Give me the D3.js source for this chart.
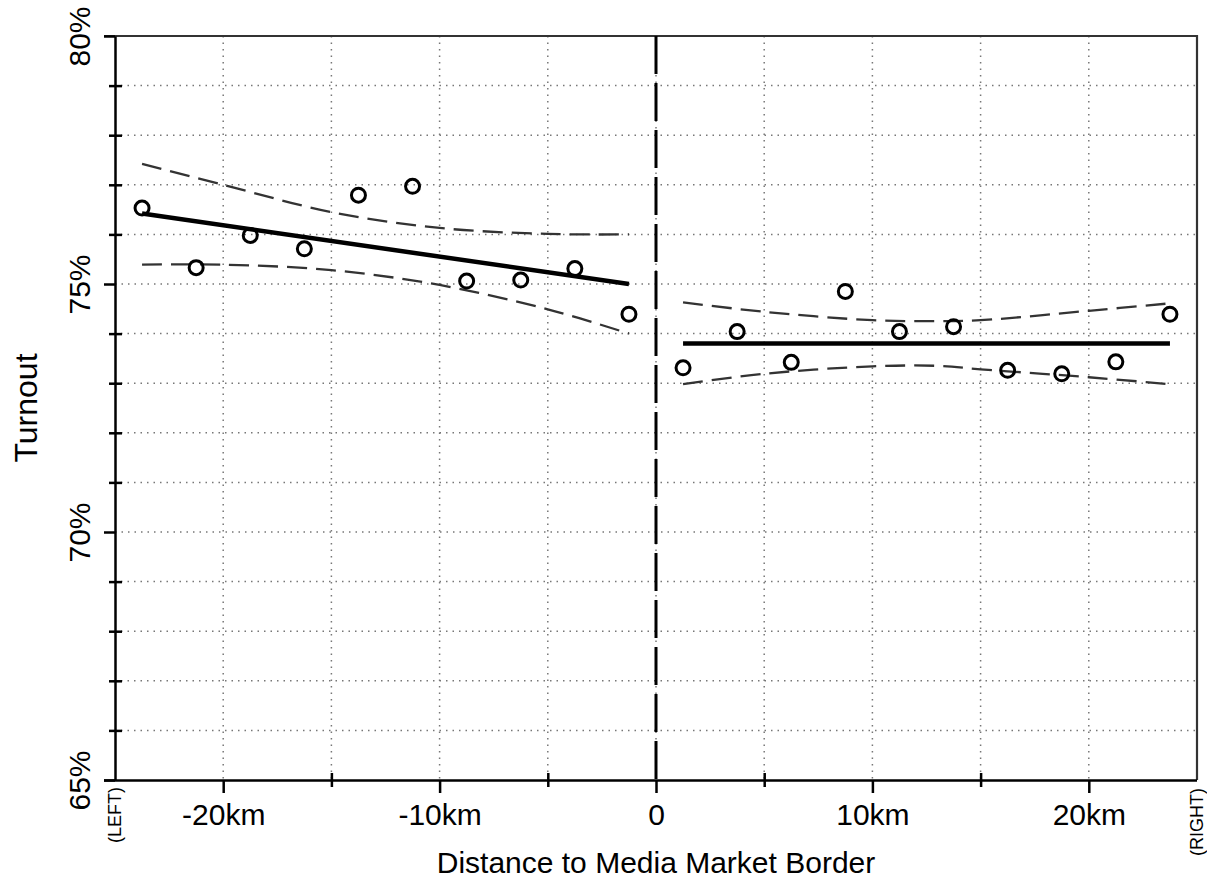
<!DOCTYPE html>
<html>
<head>
<meta charset="utf-8">
<script src="https://cdn.jsdelivr.net/npm/d3@7"></script>
<style>
  body { margin: 0; background: #fff; }
  svg { font-family: "Liberation Sans", Arial, Helvetica, sans-serif; }
</style>
</head>
<body>
<div id="chart"></div>
<script>
// binned means, km from the media market border
const leftKm = [-23.75, -21.25, -18.75, -16.25, -13.75, -11.25, -8.75, -6.25, -3.75, -1.25];
const leftTurnout = [76.53, 75.33, 75.98, 75.71, 76.79, 76.97, 75.06, 75.08, 75.31, 74.39];
const rightKm = [1.25, 3.75, 6.25, 8.75, 11.25, 13.75, 16.25, 18.75, 21.25, 23.75];
const rightTurnout = [73.31, 74.04, 73.42, 74.85, 74.04, 74.14, 73.26, 73.19, 73.43, 74.39];

// linear fits on each side
const leftFitKm = [-23.75, -1.25];
const leftFit = [76.42, 75.0];
const rightFitKm = [1.25, 23.75];
const rightFit = [73.8, 73.8];

// confidence bands (dashed)
const leftBandKm = [-23.75, -20, -15, -10, -5, -1.25];
const leftUpper = [77.42, 77.0, 76.45, 76.13, 76.01, 76.0];
const leftLower = [75.39, 75.39, 75.28, 74.98, 74.49, 74.0];
const rightBandKm = [1.25, 5, 10, 13, 15, 20, 23.75];
const rightUpper = [74.63, 74.44, 74.27, 74.25, 74.27, 74.46, 74.61];
const rightLower = [72.98, 73.19, 73.34, 73.35, 73.28, 73.12, 72.98];

// ticks
const xMajor = [-20, -10, 0, 10, 20];
const xMajorLabels = ["-20km", "-10km", "0", "10km", "20km"];
const xMinor = [-15, -5, 5, 15];
const xGrid = [-20, -15, -10, -5, 0, 5, 10, 15, 20];
const yMajor = [65, 70, 75, 80];
const yMajorLabels = ["65%", "70%", "75%", "80%"];
const yMinor = [66, 67, 68, 69, 71, 72, 73, 74, 76, 77, 78, 79];

const width = 1207, height = 884;
const plot = {left: 115, right: 1197, top: 36, bottom: 780};

const x = d3.scaleLinear().domain([-25, 25]).range([plot.left, plot.right]);
const y = d3.scaleLinear().domain([65, 80]).range([plot.bottom, plot.top]);

const svg = d3.select("#chart").append("svg")
  .attr("width", width)
  .attr("height", height);

// dotted grid
const grid = svg.append("g")
  .attr("stroke", "#777")
  .attr("stroke-width", 1.5)
  .attr("stroke-dasharray", "1.5,5");
grid.selectAll(".gy").data(yMinor).enter().append("line")
  .attr("x1", plot.left + 6).attr("x2", plot.right)
  .attr("y1", d => y(d)).attr("y2", d => y(d));
grid.selectAll(".gy2").data([70, 75]).enter().append("line")
  .attr("x1", plot.left).attr("x2", plot.right)
  .attr("y1", d => y(d)).attr("y2", d => y(d));
grid.selectAll(".gx").data(xGrid).enter().append("line")
  .attr("x1", d => x(d)).attr("x2", d => x(d))
  .attr("y1", plot.top).attr("y2", plot.bottom);

// top and right border
svg.append("path")
  .attr("d", `M${plot.left - 11},${plot.top}H${plot.right}V${plot.bottom}`)
  .attr("fill", "none")
  .attr("stroke", "#333")
  .attr("stroke-width", 2.2);

// border at zero
svg.append("line")
  .attr("x1", x(0)).attr("x2", x(0))
  .attr("y1", plot.top).attr("y2", plot.bottom)
  .attr("stroke", "#000")
  .attr("stroke-width", 3)
  .attr("stroke-dasharray", "38,9");

// axes
function styleAxis(g) {
  g.selectAll(".domain").attr("stroke", "#000").attr("stroke-width", 2.5);
  g.selectAll(".tick line").attr("stroke", "#000").attr("stroke-width", 2.5);
}

const xAxis = svg.append("g")
  .attr("transform", `translate(0,${plot.bottom})`)
  .call(d3.axisBottom(x).tickValues(xMajor).tickSize(13).tickSizeOuter(0)
    .tickFormat((d, i) => xMajorLabels[i]))
  .call(styleAxis);
xAxis.select(".domain").attr("d", `M${plot.left - 11},0.5H${plot.right}`);
xAxis.selectAll(".tick text")
  .attr("fill", "#000")
  .attr("font-size", 30)
  .attr("y", 45)
  .attr("dy", 0);

svg.append("g")
  .attr("transform", `translate(0,${plot.bottom - 7})`)
  .call(d3.axisBottom(x).tickValues(xMinor).tickSize(14).tickFormat(""))
  .call(styleAxis)
  .select(".domain").remove();

const yAxis = svg.append("g")
  .attr("transform", `translate(${plot.left},0)`)
  .call(d3.axisLeft(y).tickValues(yMajor).tickSize(11).tickSizeOuter(0)
    .tickFormat((d, i) => yMajorLabels[i]))
  .call(styleAxis);
yAxis.selectAll(".tick text")
  .attr("fill", "#000")
  .attr("font-size", 30)
  .attr("text-anchor", "middle")
  .attr("transform", "rotate(-90)")
  .attr("x", 0)
  .attr("y", -25)
  .attr("dy", 0);

svg.append("g")
  .attr("transform", `translate(${plot.left + 7},0)`)
  .call(d3.axisLeft(y).tickValues(yMinor).tickSize(13).tickFormat(""))
  .call(styleAxis)
  .select(".domain").remove();

// confidence bands
const line = d3.line()
  .x(d => x(d[0]))
  .y(d => y(d[1]))
  .curve(d3.curveCatmullRom);

const bands = [
  d3.zip(leftBandKm, leftUpper),
  d3.zip(leftBandKm, leftLower),
  d3.zip(rightBandKm, rightUpper),
  d3.zip(rightBandKm, rightLower)
];
svg.append("g").selectAll("path").data(bands).enter().append("path")
  .attr("d", line)
  .attr("fill", "none")
  .attr("stroke", "#333")
  .attr("stroke-width", 2.3)
  .attr("stroke-dasharray", "20,9");

// fitted lines
const fits = [d3.zip(leftFitKm, leftFit), d3.zip(rightFitKm, rightFit)];
svg.append("g").selectAll("path").data(fits).enter().append("path")
  .attr("d", d3.line().x(d => x(d[0])).y(d => y(d[1])))
  .attr("fill", "none")
  .attr("stroke", "#000")
  .attr("stroke-width", 4.5);

// bin means
const pts = d3.zip(leftKm.concat(rightKm), leftTurnout.concat(rightTurnout));
svg.append("g").selectAll("circle").data(pts).enter().append("circle")
  .attr("cx", d => x(d[0]))
  .attr("cy", d => y(d[1]))
  .attr("r", 7)
  .attr("fill", "none")
  .attr("stroke", "#000")
  .attr("stroke-width", 3);

// titles
svg.append("text")
  .attr("x", x(0)).attr("y", 873)
  .attr("text-anchor", "middle")
  .attr("font-size", 30)
  .text("Distance to Media Market Border");

svg.append("text")
  .attr("transform", `translate(37,${(plot.top + plot.bottom) / 2}) rotate(-90)`)
  .attr("text-anchor", "middle")
  .attr("font-size", 32)
  .text("Turnout");

svg.append("text")
  .attr("transform", `translate(${plot.left + 6},787) rotate(-90)`)
  .attr("text-anchor", "end")
  .attr("font-size", 18)
  .text("(LEFT)");

svg.append("text")
  .attr("transform", `translate(${plot.right + 6},788) rotate(-90)`)
  .attr("text-anchor", "end")
  .attr("font-size", 18)
  .text("(RIGHT)");
</script>
</body>
</html>
